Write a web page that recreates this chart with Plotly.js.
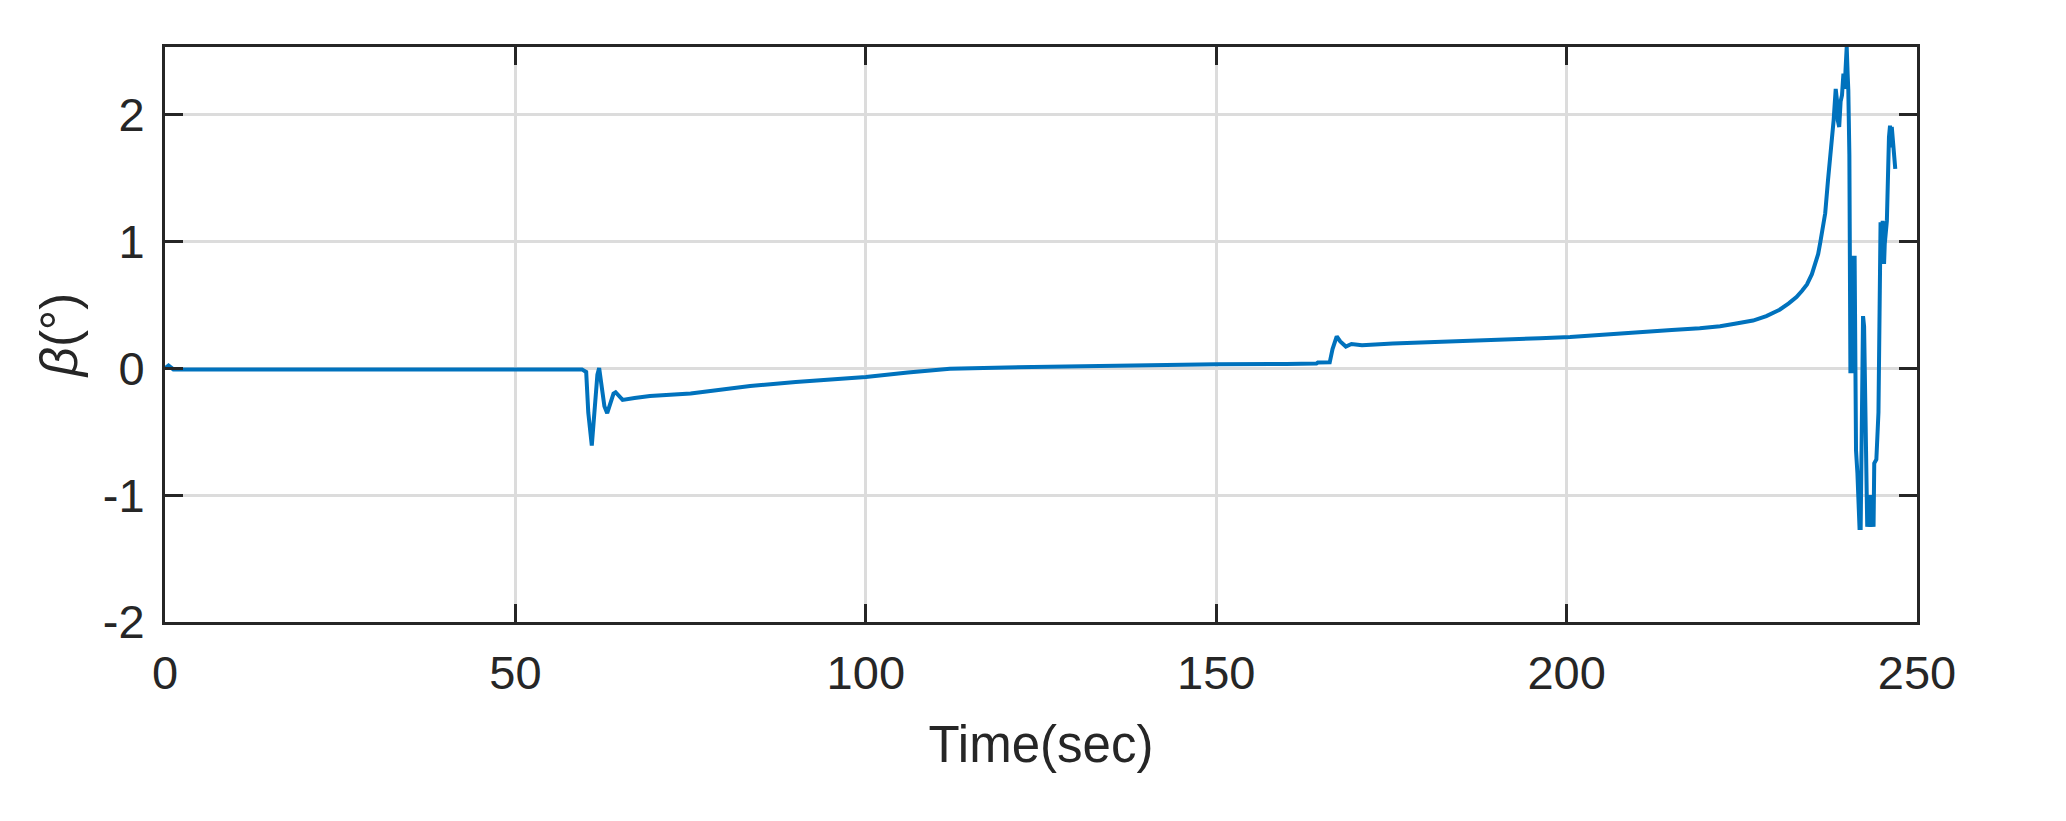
<!DOCTYPE html>
<html>
<head>
<meta charset="utf-8">
<script src="https://cdn.plot.ly/plotly-3.0.1.min.js"></script>
<style>
	html, body { margin: 0; padding: 0; background: #fff; }
	#chart { width: 2066px; height: 821px; }
</style>
</head>
<body>
<div id="chart"></div>
<script>
// time axis (sec)
const time = [
	0, 0.5, 1.2, 28, 29, 40, 50, 58, 59.5,
	60.1, 60.4, 60.9, 61.3, 61.7, 61.95, 62.3, 62.7, 63.1, 63.6, 64.0, 64.3, 64.8, 65.3,
	67, 69.2, 75, 83.5, 90, 100, 106, 112, 120, 130, 140, 150, 160, 164.3, 164.5,
	166.2, 166.6, 167.2, 167.7, 168.5, 169.3, 170.8, 175.2, 180.7, 185.7, 191.4, 196.2, 200.5,
	205, 210, 215, 219, 221.9, 224, 226.6, 228.5, 230.4, 231.7, 232.8, 233.6, 234.3, 235, 235.5, 235.9,
	236.2, 236.6, 236.9, 237.3, 237.8,
	238.1, 238.4, 238.6, 238.7, 238.9, 239.1, 239.3, 239.5, 239.7, 239.8, 239.97,
	240.1, 240.2, 240.35, 240.44, 240.5, 240.6, 240.7, 240.8, 240.9, 241.1, 241.2, 241.3,
	241.5, 241.8, 241.96, 242.1, 242.2, 242.3, 242.45, 242.6, 242.7, 242.9, 243.2, 243.4,
	243.6, 243.8, 243.9, 244.2, 244.5, 244.6, 244.7, 244.8, 245.0, 245.1, 245.3, 245.4,
	245.7, 245.8, 246.0, 246.15, 246.3, 246.4, 246.6, 246.9
];

// sideslip angle beta (deg)
const beta = [
	0, 0.02, -0.01, -0.01, -0.015, -0.015, -0.01, -0.01, -0.01,
	-0.03, -0.35, -0.61, -0.35, -0.05, 0.0, -0.12, -0.3, -0.355, -0.28, -0.2, -0.19, -0.22, -0.25,
	-0.235, -0.22, -0.2, -0.14, -0.11, -0.07, -0.035, -0.005, 0.005, 0.015, 0.025, 0.03, 0.033, 0.036, 0.044,
	0.046, 0.15, 0.25, 0.21, 0.17, 0.19, 0.18, 0.195, 0.205, 0.21, 0.225, 0.235, 0.245,
	0.26, 0.28, 0.3, 0.315, 0.33, 0.35, 0.375, 0.41, 0.46, 0.51, 0.56, 0.61, 0.66, 0.74, 0.82, 0.9,
	0.99, 1.1, 1.22, 1.48, 1.74,
	1.95, 2.2, 2.1, 1.95, 1.9, 2.1, 2.15, 2.32, 2.2, 2.35, 2.53,
	2.32, 2.19, 1.68, 0.78, -0.04, 0.5, 0.77, -0.04, 0.87, 0.87, 0.3, -0.65,
	-0.83, -1.26, -1.26, -0.43, 0.18, 0.41, 0.33, -0.31, -0.99, -1.25, -1.0, -1.25,
	-1.0, -1.25, -0.75, -0.72, -0.35, 0.19, 0.57, 1.15, 0.85, 1.16, 0.82, 0.98,
	1.16, 1.48, 1.82, 1.91, 1.74, 1.9, 1.79, 1.57
];

const xTicks = [0, 50, 100, 150, 200, 250];
const xTickText = ["0", "50", "100", "150", "200", "250"];
const yTicks = [-2, -1, 0, 1, 2];
const yTickText = ["-2", "-1", "0", "1", "2"];

const ink = "#262626";
const axisStyle = {
	showline: true,
	linecolor: ink,
	linewidth: 3,
	mirror: "ticks",
	ticks: "inside",
	ticklen: 18,
	tickwidth: 3,
	tickcolor: ink,
	showgrid: true,
	gridcolor: "#dcdcdc",
	gridwidth: 3,
	zeroline: false,
	automargin: false,
	tickmode: "array",
	tickfont: { family: "Liberation Sans, Arial, sans-serif", size: 47, color: ink }
};

const trace = {
	x: time,
	y: beta,
	type: "scatter",
	mode: "lines",
	line: { color: "#0072BD", width: 4 },
	hoverinfo: "skip"
};

const layout = {
	width: 2066,
	height: 821,
	margin: { l: 165, r: 149, t: 47, b: 199 },
	paper_bgcolor: "#ffffff",
	plot_bgcolor: "#ffffff",
	showlegend: false,
	xaxis: Object.assign({}, axisStyle, {
		range: [0, 250],
		tickvals: xTicks,
		ticktext: xTickText,
		ticklabelstandoff: 8,
		title: {
			text: "Time(sec)",
			font: { family: "Liberation Sans, Arial, sans-serif", size: 51, color: ink },
			standoff: 28
		}
	}),
	yaxis: Object.assign({}, axisStyle, {
		range: [-2, 2.53],
		tickvals: yTicks,
		ticktext: yTickText,
		ticklabelstandoff: 8,
		title: {
			text: "<i>β</i>(°)",
			font: { family: "Liberation Sans, Arial, sans-serif", size: 51, color: ink },
			standoff: 9
		}
	})
};

Plotly.newPlot("chart", [trace], layout, { displayModeBar: false, staticPlot: true });
</script>
</body>
</html>
